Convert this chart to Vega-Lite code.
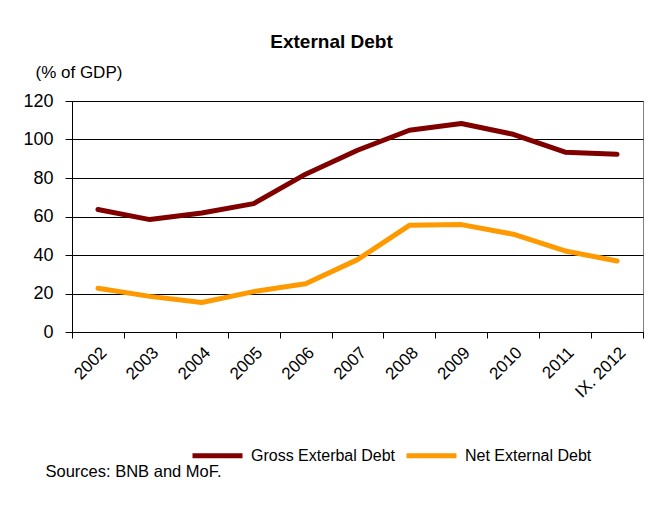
{
  "$schema": "https://vega.github.io/schema/vega-lite/v6.json",
  "width": 571,
  "height": 231,
  "autosize": {"type": "none"},
  "padding": {"left": 72, "top": 101, "right": 10, "bottom": 175},
  "background": "white",
  "config": {
    "font": "Liberation Sans",
    "view": {"stroke": "#808080", "strokeWidth": 1}
  },
  "title": {
    "text": "External Debt",
    "font": "Liberation Sans",
    "fontSize": 19,
    "fontWeight": "bold",
    "color": "black",
    "anchor": "middle",
    "dx": -26,
    "offset": 11
  },
  "data": {
    "values": [
      {"year": "2002", "series": "Gross Exterbal Debt", "value": 63.6},
      {"year": "2003", "series": "Gross Exterbal Debt", "value": 58.4},
      {"year": "2004", "series": "Gross Exterbal Debt", "value": 61.8},
      {"year": "2005", "series": "Gross Exterbal Debt", "value": 66.7},
      {"year": "2006", "series": "Gross Exterbal Debt", "value": 82.0},
      {"year": "2007", "series": "Gross Exterbal Debt", "value": 94.4},
      {"year": "2008", "series": "Gross Exterbal Debt", "value": 104.8},
      {"year": "2009", "series": "Gross Exterbal Debt", "value": 108.3},
      {"year": "2010", "series": "Gross Exterbal Debt", "value": 102.7},
      {"year": "2011", "series": "Gross Exterbal Debt", "value": 93.4},
      {"year": "IX. 2012", "series": "Gross Exterbal Debt", "value": 92.3},
      {"year": "2002", "series": "Net External Debt", "value": 22.7},
      {"year": "2003", "series": "Net External Debt", "value": 18.5},
      {"year": "2004", "series": "Net External Debt", "value": 15.3},
      {"year": "2005", "series": "Net External Debt", "value": 21.0},
      {"year": "2006", "series": "Net External Debt", "value": 25.1},
      {"year": "2007", "series": "Net External Debt", "value": 37.6},
      {"year": "2008", "series": "Net External Debt", "value": 55.4},
      {"year": "2009", "series": "Net External Debt", "value": 55.8},
      {"year": "2010", "series": "Net External Debt", "value": 50.8},
      {"year": "2011", "series": "Net External Debt", "value": 42.1},
      {"year": "IX. 2012", "series": "Net External Debt", "value": 36.9}
    ]
  },
  "mark": {"type": "line", "strokeWidth": 5, "strokeCap": "round", "strokeJoin": "round"},
  "encoding": {
    "x": {
      "field": "year",
      "type": "ordinal",
      "sort": null,
      "bandPosition": 0.5,
      "scale": {"type": "band", "paddingInner": 0, "paddingOuter": 0},
      "axis": {
        "title": "Sources: BNB and MoF.",
        "titleFont": "Liberation Sans",
        "titleFontSize": 16.5,
        "titleFontWeight": "normal",
        "titleColor": "black",
        "titleAnchor": "start",
        "titleAlign": "left",
        "titleBaseline": "middle",
        "titleAngle": 0,
        "titleX": -27,
        "titleY": 139,
        "labelAngle": -45,
        "labelFontSize": 17,
        "labelColor": "black",
        "labelPadding": 6,
        "tickBand": "extent",
        "tickSize": 6,
        "tickColor": "black",
        "domainColor": "black",
        "grid": false
      }
    },
    "y": {
      "field": "value",
      "type": "quantitative",
      "scale": {"domain": [0, 120], "nice": false},
      "axis": {
        "values": [0, 20, 40, 60, 80, 100, 120],
        "title": "(% of GDP)",
        "titleFont": "Liberation Sans",
        "titleFontSize": 17,
        "titleFontWeight": "normal",
        "titleColor": "black",
        "titleAngle": 0,
        "titleAlign": "left",
        "titleBaseline": "middle",
        "titleX": -37,
        "titleY": -29,
        "labelFontSize": 18,
        "labelColor": "black",
        "labelPadding": 12,
        "tickSize": 7,
        "tickColor": "black",
        "domainColor": "black",
        "grid": true,
        "gridColor": "black",
        "gridOpacity": 1,
        "gridWidth": 1
      }
    },
    "color": {
      "field": "series",
      "type": "nominal",
      "scale": {
        "domain": ["Gross Exterbal Debt", "Net External Debt"],
        "range": ["#800000", "#FF9900"]
      },
      "legend": {
        "title": null,
        "orient": "none",
        "direction": "horizontal",
        "legendX": 118,
        "legendY": 327,
        "symbolType": "stroke",
        "symbolSize": 2500,
        "symbolStrokeWidth": 5,
        "labelFontSize": 16,
        "labelColor": "black",
        "labelOffset": 6,
        "columnPadding": 0
      }
    }
  }
}
